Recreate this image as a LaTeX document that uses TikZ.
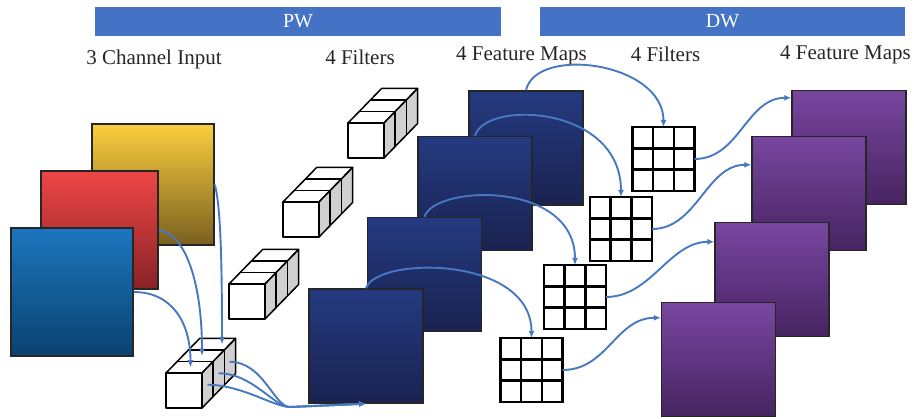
\documentclass[tikz,border=0pt]{standalone}
\usepackage{fontspec}
\setmainfont{Liberation Serif}
\usepackage{tikz}
\usetikzlibrary{arrows.meta,positioning,calc}
\definecolor{barblue}{RGB}{68,114,196}
\definecolor{flowblue}{RGB}{72,120,194}
\definecolor{yeltop}{RGB}{250,206,62}
\definecolor{yelbot}{RGB}{122,96,32}
\definecolor{redtop}{RGB}{238,70,70}
\definecolor{redbot}{RGB}{138,34,38}
\definecolor{blutop}{RGB}{28,118,190}
\definecolor{blubot}{RGB}{10,66,112}
\definecolor{navytop}{RGB}{36,58,128}
\definecolor{navybot}{RGB}{26,34,80}
\definecolor{purtop}{RGB}{120,70,160}
\definecolor{purmid}{RGB}{106,42,148}
\definecolor{purbot}{RGB}{70,36,96}
\definecolor{cubegray}{RGB}{208,208,208}
\tikzset{
  header/.style={fill=barblue, text=white, minimum height=29pt, inner sep=0pt, font=\fontsize{20}{23}\selectfont},
  lbl/.style={anchor=base, inner sep=0pt, text=black!85, font=\fontsize{21}{24}\selectfont},
  fmap/.style={draw=black!85, line width=1.4pt, inner sep=0pt, minimum width=114pt, minimum height=114pt},
  navymap/.style={fmap, top color=navytop, bottom color=navybot},
  purmap/.style={fmap, top color=purtop, middle color=purmid, bottom color=purbot},
  kernel/.style={draw=black, line width=2.4pt, fill=white, inner sep=0pt, outer sep=0pt, minimum width=62pt, minimum height=64pt},
  cubeline/.style={draw=black, line width=1.5pt, line join=round},
  flow/.style={-{Latex[length=7pt,width=6pt]}, flowblue, line width=1.9pt}
}
% 1x1x3 filter: front face top left at (#2,#3)
\newcommand{\pwcube}[3]{%
  \begin{scope}[shift={(#2,#3)}]
    \filldraw[cubeline, fill=white] (0,0) -- (36,0) -- (69.6,-34.5) -- (33.6,-34.5) -- cycle;
    \draw[cubeline] (11.2,-11.5) -- (47.2,-11.5) (22.4,-23) -- (58.4,-23);
    \filldraw[cubeline, fill=cubegray] (36,0) -- (69.6,-34.5) -- (69.6,0.5) -- (36,35) -- cycle;
    \draw[cubeline] (47.2,-11.5) -- (47.2,23.5) (58.4,-23) -- (58.4,12);
    \node[cubeline, fill=white, minimum width=36pt, minimum height=35pt, inner sep=0pt] (#1) at (18,17.5) {};
    \coordinate (#1-t1) at (24.5,-5.75);
    \coordinate (#1-t2) at (36,-17.25);
    \coordinate (#1-t3) at (56,-28.75);
    \coordinate (#1-s1) at (41.5,11.75);
    \coordinate (#1-s2) at (52.5,0.25);
    \coordinate (#1-s3) at (63.5,-11.25);
  \end{scope}}
% 3x3 depthwise kernel
\newcommand{\dwgrid}[2]{%
  \node[kernel] (#1) at (#2) {};
  \foreach \k in {0.3333,0.6667} {
    \draw[line width=2.4pt] ($(#1.north west)!\k!(#1.north east)$) -- ($(#1.south west)!\k!(#1.south east)$);
    \draw[line width=2.4pt] ($(#1.north west)!\k!(#1.south west)$) -- ($(#1.north east)!\k!(#1.south east)$);
  }}

\begin{document}
\begin{tikzpicture}[x=1pt,y=-1pt]
  \useasboundingbox (0,0) rectangle (914,419);

  \node[header, minimum width=406pt] (pw) at (298,21.5) {PW};
  \node[header, minimum width=365pt] (dw) at (722.5,21.5) {DW};

  \node[lbl] (inlbl) at (154,65) {3 Channel Input};
  \node[lbl] (pwflbl) at (360,65) {4 Filters};
  \node[lbl] (pwmlbl) at (521.5,61) {4 Feature Maps};
  \node[lbl] (dwflbl) at (665.5,61.5) {4 Filters};
  \node[lbl] (dwmlbl) at (845.5,60) {4 Feature Maps};

  % input channels
  \node[fmap, minimum width=122pt, minimum height=121pt, top color=yeltop, bottom color=yelbot] (yel) at (153,184.5) {};
  \node[fmap, minimum width=117pt, minimum height=118pt, top color=redtop, bottom color=redbot] (red) at (99.5,230) {};
  \node[fmap, minimum width=122pt, minimum height=128pt, top color=blutop, bottom color=blubot] (blu) at (72,292) {};

  % pointwise filters
  \pwcube{f1}{348}{123}
  \pwcube{f2}{283}{202}
  \pwcube{f3}{229}{284}
  \pwcube{f0}{166}{373}

  % pointwise outputs
  \node[navymap] (b1) at (526,148) {};
  \node[navymap] (b2) at (475,193.5) {};
  \node[navymap] (b3) at (424.5,274.5) {};
  \node[navymap] (b4) at (366,346) {};

  % depthwise kernels
  \dwgrid{g1}{663.5,159}
  \dwgrid{g2}{621,229}
  \dwgrid{g3}{575,297}
  \dwgrid{g4}{531.5,370}

  % depthwise outputs
  \node[purmap] (p1) at (849,147.5) {};
  \node[purmap] (p2) at (809,193.5) {};
  \node[purmap] (p3) at (772,279.5) {};
  \node[purmap] (p4) at (718.5,359.5) {};

  \draw[flow] (yel.east) .. controls +(6,20) and +(0,-80) .. (f0-t3);
  \draw[flow] (red.east) .. controls +(28,4) and +(0,-70) .. (f0-t2);
  \draw[flow] (blu.east) .. controls +(38,0) and +(0,-45) .. (f0-t1);

  \coordinate (pwjoin) at (290,407);
  \foreach \s in {1,2,3}
    \draw[flow] (f0-s\s) .. controls +(34,0) and +(-16,0) .. (pwjoin) -- (b4.south);

  \draw[flow] (b1.north) .. controls +(10,-45) and +(0,-65) .. (g1.north);
  \draw[flow] (b2.north) .. controls +(10,-36) and +(0,-92) .. (g2.north);
  \draw[flow] (b3.north) .. controls +(10,-32) and +(0,-85) .. (g3.north);
  \draw[flow] (b4.north) .. controls +(10,-32) and +(0,-83) .. (g4.north);

  \draw[flow] (g1.east) .. controls +(45,0) and +(-45,0) .. ($(p1.north west)+(0,8)$);
  \draw[flow] (g2.east) .. controls +(45,0) and +(-45,0) .. ($(p2.north west)+(0,29)$);
  \draw[flow] (g3.east) .. controls +(45,0) and +(-45,0) .. ($(p3.north west)+(0,20)$);
  \draw[flow] (g4.east) .. controls +(45,0) and +(-45,0) .. ($(p4.north west)+(0,16)$);
\end{tikzpicture}
\end{document}
